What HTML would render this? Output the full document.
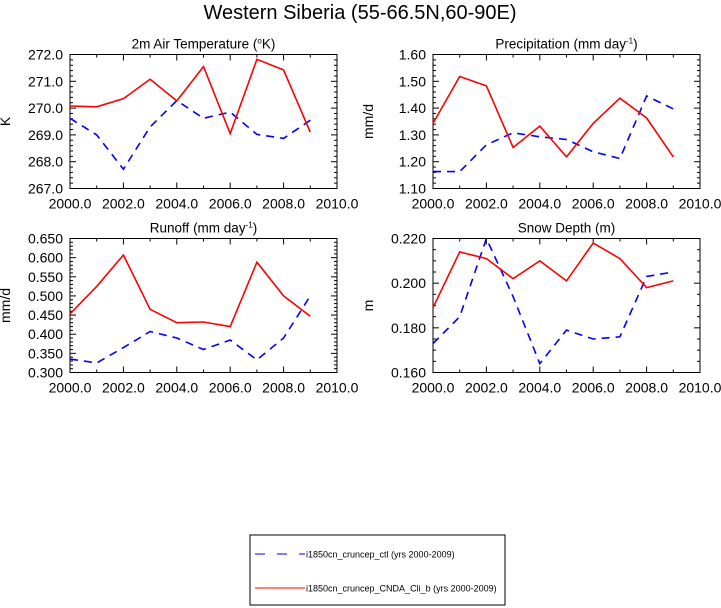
<!DOCTYPE html>
<html><head><meta charset="utf-8"><style>
html,body{margin:0;padding:0;background:#fff;}
svg{display:block;font-family:"Liberation Sans",sans-serif;}
</style></head><body>
<svg id="fig" width="721" height="608" viewBox="0 0 721 608" xmlns="http://www.w3.org/2000/svg">
<text x="360" y="19" font-size="20" text-anchor="middle">Western Siberia (55-66.5N,60-90E)</text>
<g>
<rect x="250" y="535" width="255" height="70" fill="none" stroke="#000" stroke-width="1"/>
<line x1="255" y1="554" x2="305" y2="554" stroke="#00f" stroke-width="1" stroke-dasharray="10,12"/>
<text x="306" y="557.5" font-size="9">i1850cn_cruncep_ctl (yrs 2000-2009)</text>
<line x1="255" y1="588" x2="305" y2="588" stroke="#f00" stroke-width="1"/>
<text x="306" y="591.5" font-size="9">i1850cn_cruncep_CNDA_Cli_b (yrs 2000-2009)</text>
</g>
</svg>
<script>
const years = [2000,2001,2002,2003,2004,2005,2006,2007,2008,2009];
const xTicks = [2000,2002,2004,2006,2008,2010];
const tempRed = [270.08,270.05,270.35,271.08,270.27,271.55,269.05,271.82,271.42,269.1];
const tempBlue = [269.62,269.0,267.72,269.3,270.28,269.62,269.85,269.02,268.87,269.55];
const tempTicks = [267,268,269,270,271,272];
const precRed = [1.343,1.518,1.483,1.253,1.333,1.218,1.343,1.437,1.363,1.218];
const precBlue = [1.163,1.163,1.263,1.308,1.293,1.283,1.237,1.212,1.445,1.397];
const precTicks = [1.1,1.2,1.3,1.4,1.5,1.6];
const runRed = [0.453,0.525,0.607,0.465,0.430,0.432,0.420,0.588,0.500,0.447];
const runBlue = [0.335,0.325,0.365,0.407,0.390,0.360,0.385,0.333,0.390,0.500];
const runTicks = [0.3,0.35,0.4,0.45,0.5,0.55,0.6,0.65];
const snowRed = [0.189,0.214,0.211,0.202,0.210,0.201,0.218,0.211,0.198,0.201];
const snowBlue = [0.173,0.185,0.220,0.194,0.164,0.179,0.175,0.176,0.203,0.205];
const snowTicks = [0.16,0.18,0.2,0.22];
const NS="http://www.w3.org/2000/svg";
const svg=document.getElementById('fig');
function mk(tag,attrs,parent){const e=document.createElementNS(NS,tag);for(const k in attrs)e.setAttribute(k,attrs[k]);(parent||svg).appendChild(e);return e;}
function panel(id,x0,y0,title,sup,ylab,ticks,dec,minorN,red,blue){
  const w=267,h=134;
  const g=mk('g',{});
  
  
  const ymin=ticks[0],ymax=ticks[ticks.length-1];
  const sx=v=>x0+(v-2000)/10*w;
  const sy=v=>y0+h-(v-ymin)/(ymax-ymin)*h;
  const t=mk('text',{x:x0+w/2,y:y0-6,'font-size':13.5,'text-anchor':'middle'},g);
  
  
  t.appendChild(document.createTextNode(title));
  if(sup){const s=mk('tspan',{'font-size':8,dy:-5},t);s.textContent=sup[0];const r=mk('tspan',{dy:5},t);r.textContent=sup[1];}
  const fr=mk('rect',{x:x0,y:y0,width:w,height:h,fill:'none',stroke:'#000','stroke-width':1},g);
  
  
  for(let i=0;i<ticks.length;i++){
    const y=sy(ticks[i]);
    mk('line',{x1:x0,y1:y,x2:x0+6,y2:y,stroke:'#000'},g);
    mk('line',{x1:x0+w,y1:y,x2:x0+w-6,y2:y,stroke:'#000'},g);
    const tl=mk('text',{x:x0-7,y:y+5,'font-size':14,'text-anchor':'end'},g);
    
    
    tl.textContent=ticks[i].toFixed(dec);
    if(i<ticks.length-1){const st=(ticks[i+1]-ticks[i])/(minorN+1);for(let j=1;j<=minorN;j++){const ym=sy(ticks[i]+st*j);mk('line',{x1:x0,y1:ym,x2:x0+3,y2:ym,stroke:'#000'},g);mk('line',{x1:x0+w,y1:ym,x2:x0+w-3,y2:ym,stroke:'#000'},g);}}
  }
  for(let i=0;i<xTicks.length;i++){
    const x=sx(xTicks[i]);
    mk('line',{x1:x,y1:y0+h,x2:x,y2:y0+h-6,stroke:'#000'},g);
    mk('line',{x1:x,y1:y0,x2:x,y2:y0+6,stroke:'#000'},g);
    const tl=mk('text',{x:x,y:y0+h+20,'font-size':14,'text-anchor':'middle'},g);
    
    
    tl.textContent=xTicks[i].toFixed(1);
    if(i<xTicks.length-1){const xm=sx(xTicks[i]+1);mk('line',{x1:xm,y1:y0+h,x2:xm,y2:y0+h-3,stroke:'#000'},g);mk('line',{x1:xm,y1:y0,x2:xm,y2:y0+3,stroke:'#000'},g);}
  }
  const yl=mk('text',{x:0,y:0,'font-size':14,'text-anchor':'middle',transform:`translate(${x0-60},${y0+h/2}) rotate(-90)`},g);
  
  
  yl.textContent=ylab;
  const pts=a=>a.map((v,i)=>sx(years[i]).toFixed(1)+','+sy(v).toFixed(1)).join(' ');
  const b=mk('polyline',{points:pts(blue),fill:'none',stroke:'#00f','stroke-width':1.6,'stroke-dasharray':'8,6'},g);
  
  
  const r=mk('polyline',{points:pts(red),fill:'none',stroke:'#f00','stroke-width':1.6},g);
  
  
}
panel('temperature',70,54.5,'2m Air Temperature (',['o','K)'],'K',tempTicks,1,4,tempRed,tempBlue);
panel('precipitation',433,54.5,'Precipitation (mm day',['-1',')'],'mm/d',precTicks,2,4,precRed,precBlue);
panel('runoff',70,238.5,'Runoff (mm day',['-1',')'],'mm/d',runTicks,3,4,runRed,runBlue);
panel('snow-depth',433,238.5,'Snow Depth (m)',null,'m',snowTicks,3,3,snowRed,snowBlue);
</script>
</body></html>
